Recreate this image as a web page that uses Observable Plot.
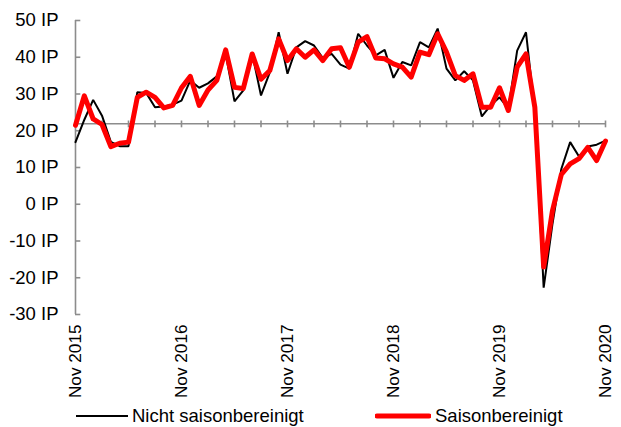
<!DOCTYPE html>
<html>
<head>
<meta charset="utf-8">
<script src="https://cdn.jsdelivr.net/npm/d3@7"></script>
<script src="https://cdn.jsdelivr.net/npm/@observablehq/plot@0.6"></script>
<style>
  html, body { margin: 0; padding: 0; background: #fff; }
  body { width: 621px; height: 427px; overflow: hidden; font-family: "Liberation Sans", Arial, sans-serif; }
  #legend { position: relative; height: 22px; font-size: 18.5px; color: #000; }
  .item { position: absolute; top: 0; height: 22px; display: flex; align-items: center; }
</style>
</head>
<body>
<div id="chart"></div>
<div id="legend">
  <div class="item" style="left:76px"><svg width="52" height="8"><line x1="0" x2="52" y1="4" y2="4" stroke="#000" stroke-width="2"/></svg><span style="margin-left:4px">Nicht saisonbereinigt</span></div>
  <div class="item" style="left:375px"><svg width="56" height="8"><line x1="2" x2="54" y1="4" y2="4" stroke="#ff0000" stroke-width="5" stroke-linecap="round"/></svg><span style="margin-left:4px">Saisonbereinigt</span></div>
</div>
<script>
// Months Nov 2015 .. Nov 2020 (index 0..60)
const tickLabels = ["Nov 2015", "Nov 2016", "Nov 2017", "Nov 2018", "Nov 2019", "Nov 2020"];
const tickIndex = [0, 12, 24, 36, 48, 60];
const yTicks = [-30, -20, -10, 0, 10, 20, 30, 40, 50];

const nichtSaisonbereinigt = [
  16.9, 23.0, 28.4, 24.1, 17.0, 15.8, 15.8, 30.5, 30.3, 26.4, 26.6, 27.1,
  28.2, 33.7, 31.7, 32.9, 34.8, 41.0, 28.0, 31.0, 41.0, 29.6, 35.9, 46.8,
  35.5, 42.7, 44.4, 43.2, 39.8, 40.9, 38.0, 36.9, 46.4, 43.2, 40.5, 42.0,
  34.4, 38.7, 37.8, 44.1, 42.7, 47.8, 36.9, 33.7, 36.2, 33.7, 23.9, 26.9,
  29.1, 26.0, 41.8, 46.8, 25.0, -22.7, -5.3, 9.6, 16.9, 13.0, 15.7, 16.2,
  17.3
];
const saisonbereinigt = [
  21.5, 29.5, 23.2, 21.7, 15.7, 16.6, 16.9, 29.1, 30.5, 29.1, 26.2, 26.9,
  31.7, 34.8, 26.9, 31.1, 33.7, 42.0, 31.8, 31.5, 40.9, 34.0, 36.4, 45.0,
  39.1, 42.3, 40.0, 42.0, 39.1, 42.3, 42.6, 37.3, 44.1, 45.6, 39.8, 39.6,
  38.2, 37.3, 34.6, 41.4, 40.7, 46.4, 41.4, 35.0, 33.7, 35.5, 26.4, 26.4,
  31.7, 25.5, 37.3, 40.9, 26.4, -17.1, -1.7, 8.1, 11.0, 12.4, 15.5, 11.9,
  17.2
];
const axisCross = 21.9;

const nsa = nichtSaisonbereinigt.map((v, i) => ({i, v}));
const sa = saisonbereinigt.map((v, i) => ({i, v}));
const minorTicks = d3.range(0, 61, 3);

const axisColor = "#8c8c8c";

const chart = Plot.plot({
  width: 621,
  height: 405,
  marginLeft: 75,
  marginRight: 16,
  marginTop: 20,
  marginBottom: 91,
  style: { fontFamily: "'Liberation Sans', Arial, sans-serif", fontSize: "18.5px", color: "#000", background: "#fff" },
  x: { type: "linear", domain: [0, 60] },
  y: { domain: [-30, 50] },
  marks: [
    // y axis labels
    Plot.axisY({ ticks: yTicks, tickSize: 0, tickPadding: 17, tickFormat: d => `${d} IP`, label: null, fill: "#000" }),
    // x axis labels
    Plot.axisX({ ticks: tickIndex, tickSize: 0, tickPadding: 10, tickRotate: -90, fontSize: 17.2, tickFormat: (d) => tickLabels[tickIndex.indexOf(d)], label: null, fill: "#000" }),
    // vertical axis line and inside ticks
    Plot.ruleX([0], { y1: -30, y2: 50, stroke: axisColor, strokeWidth: 1.6 }),
    Plot.ruleY(yTicks, { x1: 0, x2: 0.6, stroke: axisColor, strokeWidth: 1.6 }),
    // horizontal axis line and ticks
    Plot.ruleY([axisCross], { x1: 0, x2: 60, stroke: axisColor, strokeWidth: 1.6 }),
    Plot.ruleX(minorTicks, { y1: axisCross + 0.75, y2: axisCross - 1.1, stroke: axisColor, strokeWidth: 1.6 }),
    // series
    Plot.line(nsa, { x: "i", y: "v", stroke: "#000", strokeWidth: 2, strokeLinejoin: "miter" }),
    Plot.line(sa, { x: "i", y: "v", stroke: "#ff0000", strokeWidth: 5, strokeLinejoin: "round" })
  ]
});
document.getElementById("chart").appendChild(chart);
</script>
</body>
</html>
